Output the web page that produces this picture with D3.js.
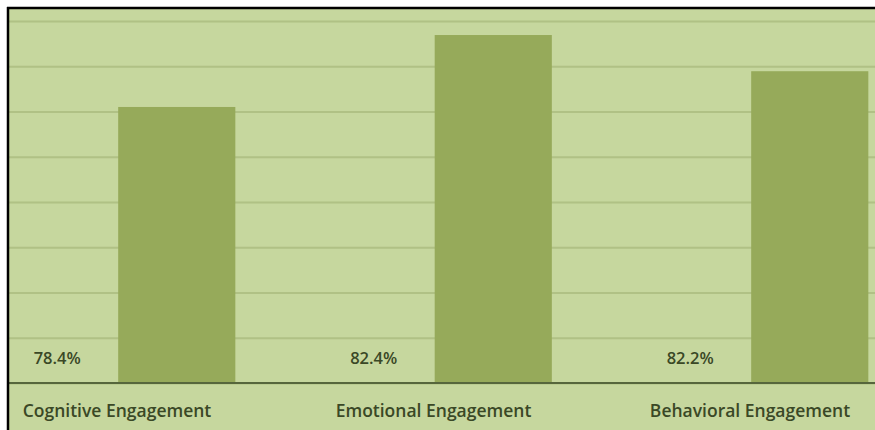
<!DOCTYPE html>
<html>
<head>
<meta charset="utf-8">
<script src="https://cdn.jsdelivr.net/npm/d3@7"></script>
<style>
  body { margin: 0; background: #fff; }
  svg { display: block; }
</style>
</head>
<body>
<svg></svg>
<script>
// chart data
var categories = ["Cognitive Engagement", "Emotional Engagement", "Behavioral Engagement"]
var pctLabels = ["78.4%", "82.4%", "82.2%"]
var barValues = [61.0, 76.9, 68.9]
var yTicks = [0, 10, 20, 30, 40, 50, 60, 70, 80]
var series = ["pct", "bar"]

var W = 875, H = 430

var svg = d3.select("svg")
    .attr("width", W)
    .attr("height", H)

// green chart area + black frame (top / left)
svg.append("rect")
    .attr("x", 8).attr("y", 8)
    .attr("width", W - 8).attr("height", H - 8)
    .attr("fill", "#c6d79e")

var baseY = 383

var y = d3.scaleLinear()
    .domain([0, 80])
    .range([baseY, 21])

// categories are wider than the visible frame (chart cropped on both sides)
var x0 = d3.scaleBand()
    .domain(categories)
    .range([-41.25, 908.25])

var x1 = d3.scaleBand()
    .domain(series)
    .range([0, x0.bandwidth()])
    .paddingInner(0.02)
    .paddingOuter(0.334)

var clip = svg.append("clipPath").attr("id", "plot")
clip.append("rect").attr("x", 9).attr("y", 9).attr("width", W - 9).attr("height", H - 9)

var plot = svg.append("g").attr("clip-path", "url(#plot)")

//gridlines
var grid = plot.append("g")
    .attr("transform", "translate(" + W + ",0)")
    .call(d3.axisLeft(y).tickValues(yTicks).tickSize(W).tickFormat(""))
grid.select(".domain").remove()
grid.selectAll(".tick line")
    .attr("stroke", "#abbd80")
    .attr("stroke-width", 2)
    .attr("stroke-opacity", 0.85)

// bars
plot.selectAll("rect.bar")
    .data(barValues)
    .enter()
    .append("rect")
    .attr("class", "bar")
    .attr("x", (d, i) => x0(categories[i]) + x1("bar"))
    .attr("width", x1.bandwidth())
    .attr("y", d => y(d))
    .attr("height", d => y(0) - y(d))
    .attr("fill", "#96aa5a")

// baseline
plot.append("line")
    .attr("x1", 0).attr("x2", W)
    .attr("y1", y(0)).attr("y2", y(0))
    .attr("stroke", "#56663c")
    .attr("stroke-width", 2.2)

// percentage labels
plot.selectAll("text.pct")
    .data(pctLabels)
    .enter()
    .append("text")
    .attr("class", "pct")
    .attr("x", (d, i) => x0(categories[i]) + x1("pct") + x1.bandwidth() / 2)
    .attr("y", y(0) - 19)
    .attr("text-anchor", "middle")
    .attr("font-family", "'Open Sans', Lato, sans-serif")
    .attr("font-weight", 600)
    .attr("font-size", 16.5)
    .attr("fill", "#3a4826")
    .text(d => d)

// category labels
plot.selectAll("text.cat")
    .data(categories)
    .enter()
    .append("text")
    .attr("class", "cat")
    .attr("x", d => x0(d) + x0.bandwidth() / 2)
    .attr("y", 417)
    .attr("text-anchor", "middle")
    .attr("font-family", "'Open Sans', Lato, sans-serif")
    .attr("font-weight", 600)
    .attr("font-size", 17.5)
    .attr("fill", "#3a4826")
    .text(d => d)

// frame lines
svg.append("line").attr("x1", 7).attr("x2", W).attr("y1", 8).attr("y2", 8)
    .attr("stroke", "#000").attr("stroke-width", 2.5)
svg.append("line").attr("x1", 8).attr("x2", 8).attr("y1", 7).attr("y2", H)
    .attr("stroke", "#000").attr("stroke-width", 2.5)
</script>
</body>
</html>
